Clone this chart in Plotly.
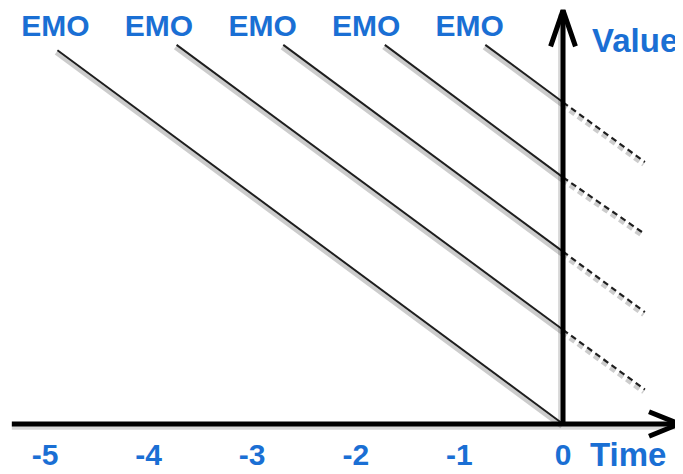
import plotly.graph_objects as go

# ---- data ----
start_times = [-4.88, -3.73, -2.70, -1.72, -0.75]
start_values = [4.88, 4.95, 4.95, 4.95, 4.95]
now_values = [0.0, 1.23, 2.25, 3.22, 4.20]
forecast_time = 0.79
forecast_values = [None, 0.45, 1.46, 2.48, 3.42]
emo_times = [-4.9, -3.9, -2.9, -1.9, -0.9]
emo_labels = ["EMO", "EMO", "EMO", "EMO", "EMO"]
tick_values = [-5, -4, -3, -2, -1, 0]
tick_labels = ["-5", "-4", "-3", "-2", "-1", "0"]

BLUE = "#1a6fd4"
FONT = "Liberation Sans"
XR = [-5.357, 1.158]
YR = [-0.653, 5.431]
SDX, SDY = -0.014, -0.035  # shadow offset

fig = go.Figure()

def seg(x, y, color, width, dash="solid"):
    fig.add_trace(go.Scatter(x=x, y=y, mode="lines", hoverinfo="skip",
                             line=dict(color=color, width=width, dash=dash),
                             showlegend=False))

# lines with shadows
for t0, v0, vn, vf in zip(start_times, start_values, now_values, forecast_values):
    seg([t0 + SDX, 0 + SDX], [v0 + SDY, vn + SDY], "rgba(0,0,0,0.2)", 4)
    if vf is not None:
        seg([0 + SDX, forecast_time + SDX], [vn + SDY, vf + SDY],
            "rgba(0,0,0,0.2)", 4, "6px,4px")
for t0, v0, vn, vf in zip(start_times, start_values, now_values, forecast_values):
    seg([t0, 0], [v0, vn], "#1e1e1e", 2)
    if vf is not None:
        seg([0, forecast_time], [vn, vf], "#1e1e1e", 2.2, "6px,4px")

# axes (with arrowheads)
x_left, x_right = -5.32, 1.12
y_top = 5.40
ax_col = "#000000"
seg([x_left, x_right - 0.02], [0 + SDY, 0 + SDY], "rgba(0,0,0,0.15)", 6)
seg([0 + SDX - 0.005, 0 + SDX - 0.005], [0, y_top - 0.05], "rgba(0,0,0,0.15)", 6)
seg([x_left, x_right], [0, 0], ax_col, 5)
seg([x_right - 0.29, x_right, x_right - 0.29], [0.16, 0, -0.16], ax_col, 5)
seg([0, 0], [0, y_top], ax_col, 5)
seg([-0.12, 0, 0.12], [y_top - 0.47, y_top, y_top - 0.47], ax_col, 5)

# text
fig.add_trace(go.Scatter(x=emo_times, y=[5.17] * len(emo_times), mode="text",
                         text=emo_labels, hoverinfo="skip", showlegend=False,
                         textfont=dict(family=FONT, size=30, color=BLUE, weight="bold")))
fig.add_trace(go.Scatter(x=tick_values, y=[-0.444] * len(tick_values), mode="text",
                         text=tick_labels, hoverinfo="skip", showlegend=False,
                         textfont=dict(family=FONT, size=30, color=BLUE, weight="bold")))
fig.add_trace(go.Scatter(x=[0.26, 0.28], y=[-0.444, 4.96], mode="text",
                         text=["Time", "Value"], hoverinfo="skip", showlegend=False,
                         textposition="middle right",
                         textfont=dict(family=FONT, size=33, color=BLUE, weight="bold")))

fig.update_layout(
    width=675, height=466,
    margin=dict(l=0, r=0, t=0, b=0),
    paper_bgcolor="white", plot_bgcolor="white",
    xaxis=dict(range=XR, visible=False, fixedrange=True),
    yaxis=dict(range=YR, visible=False, fixedrange=True),
    showlegend=False,
)
fig.write_html("out.html")
